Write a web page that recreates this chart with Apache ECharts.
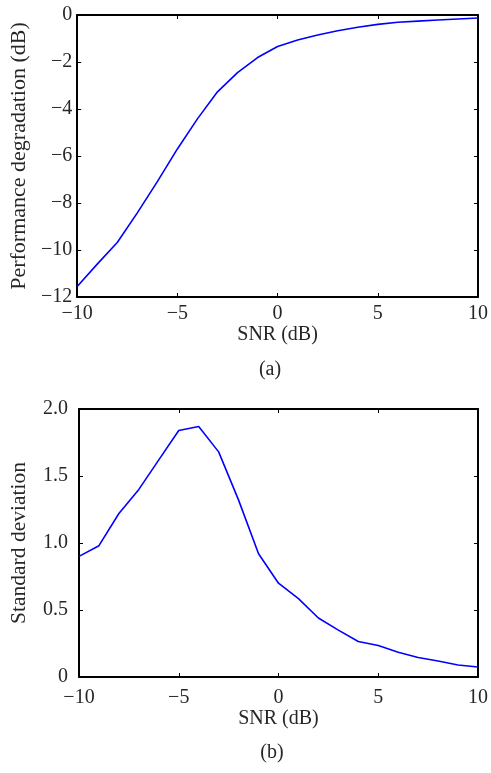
<!DOCTYPE html>
<html><head><meta charset="utf-8">
<script src="https://cdn.jsdelivr.net/npm/echarts@6/dist/echarts.min.js"></script>
<style>html,body{margin:0;padding:0;background:#fff}#c{width:491px;height:773px}</style>
</head><body><div id="c"></div>
<script>
const snr = [-10,-9,-8,-7,-6,-5,-4,-3,-2,-1,0,1,2,3,4,5,6,7,8,9,10];
const degradation = [-11.55,-10.6,-9.68,-8.42,-7.09,-5.7,-4.42,-3.27,-2.45,-1.81,-1.34,-1.06,-0.85,-0.67,-0.52,-0.40,-0.31,-0.26,-0.21,-0.17,-0.13];
const stdDev = [0.90,0.98,1.22,1.40,1.62,1.84,1.87,1.68,1.32,0.92,0.70,0.585,0.44,0.35,0.265,0.235,0.185,0.145,0.12,0.09,0.075];
const xTicks = [-10,-5,0,5,10];
const yTicksA = [-12,-10,-8,-6,-4,-2,0];
const yTicksB = [0,0.5,1.0,1.5,2.0];

const FONT = '"Liberation Serif", "DejaVu Serif", serif';
const TXT = '#262626';
const minus = v => String(v).replace('-', '\u2212');

function axisBase(extra) {
  return Object.assign({
    type: 'value',
    axisLine: {show: true, onZero: false, lineStyle: {color: '#000', width: 2}},
    axisTick: {show: true, inside: true, length: 4, lineStyle: {color: '#000', width: 1}},
    splitLine: {show: false},
    nameTextStyle: {fontFamily: FONT, fontSize: 20, color: TXT},
    axisLabel: {fontFamily: FONT, fontSize: 20, color: TXT}
  }, extra);
}
const lbl = (m, f) => ({fontFamily: FONT, fontSize: 20, color: TXT, margin: m, formatter: f});

const chart = echarts.init(document.getElementById('c'), null, {renderer: 'canvas'});
chart.setOption({
  animation: false,
  grid: [
    {left: 77, top: 15, width: 405, height: 282},
    {left: 77, top: 409, width: 402, height: 268}
  ],
  xAxis: [
    axisBase({gridIndex: 0, min: -10, max: 10, interval: 5, name: 'SNR (dB)', nameLocation: 'middle', nameGap: 27,
      axisLabel: lbl(7, minus)}),
    axisBase({gridIndex: 0, min: -10, max: 10, interval: 5, position: 'top', axisLabel: {show: false}}),
    axisBase({gridIndex: 1, min: -10, max: 10, interval: 5, name: 'SNR (dB)', nameLocation: 'middle', nameGap: 31,
      axisLabel: lbl(11, minus)}),
    axisBase({gridIndex: 1, min: -10, max: 10, interval: 5, position: 'top', axisLabel: {show: false}})
  ],
  yAxis: [
    axisBase({gridIndex: 0, min: -12, max: 0, interval: 2, name: 'Performance degradation (dB)', nameLocation: 'middle', nameGap: 46,
      nameTextStyle: {fontFamily: FONT, fontSize: 22, color: TXT},
      axisLabel: lbl(5, minus)}),
    axisBase({gridIndex: 0, min: -12, max: 0, interval: 2, position: 'right', axisLabel: {show: false}}),
    axisBase({gridIndex: 1, min: 0, max: 2, interval: 0.5, name: 'Standard deviation', nameLocation: 'middle', nameGap: 49,
      nameTextStyle: {fontFamily: FONT, fontSize: 21.5, color: TXT},
      axisLabel: lbl(11, v => v === 0 ? '0' : v.toFixed(1))}),
    axisBase({gridIndex: 1, min: 0, max: 2, interval: 0.5, position: 'right', axisLabel: {show: false}})
  ],
  series: [
    {type: 'line', xAxisIndex: 0, yAxisIndex: 0, data: snr.map((x, i) => [x, degradation[i]]),
      showSymbol: false, lineStyle: {color: '#0000ff', width: 1.6}, clip: false},
    {type: 'line', xAxisIndex: 2, yAxisIndex: 2, data: snr.map((x, i) => [x, stdDev[i]]),
      showSymbol: false, lineStyle: {color: '#0000ff', width: 1.6}, clip: false}
  ],
  graphic: [
    {type: 'text', x: 270, y: 370, style: {text: '(a)', font: '20px ' + FONT, fill: TXT, textAlign: 'center', textVerticalAlign: 'middle'}},
    {type: 'text', x: 272, y: 753, style: {text: '(b)', font: '20px ' + FONT, fill: TXT, textAlign: 'center', textVerticalAlign: 'middle'}}
  ]
});
</script>
</body></html>
